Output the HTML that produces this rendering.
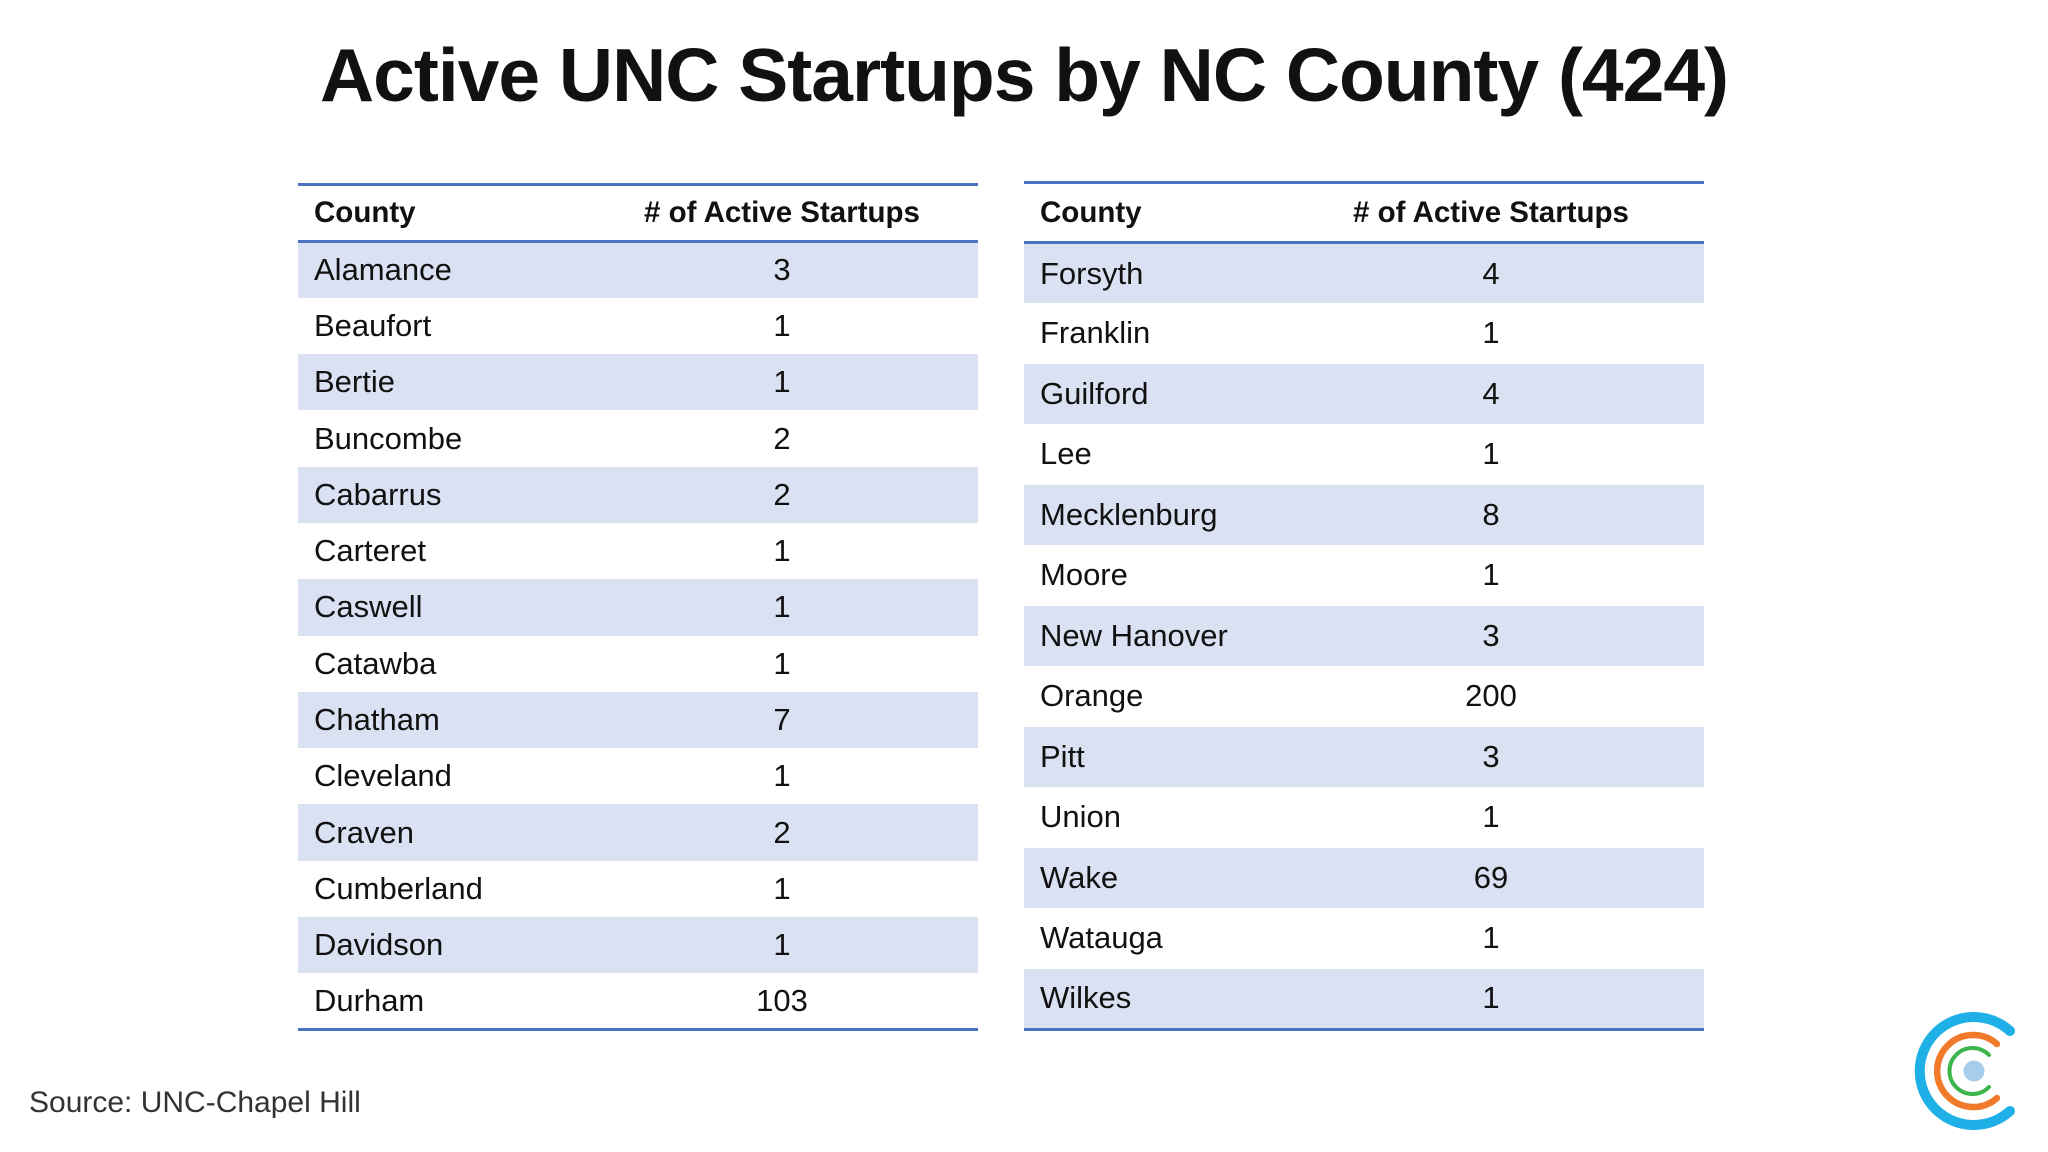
<!DOCTYPE html>
<html><head><meta charset="utf-8"><style>
body{margin:0;width:2048px;height:1152px;background:#fff;position:relative;overflow:hidden;font-family:"Liberation Sans",sans-serif;color:#111}
h1{position:absolute;left:0;width:2048px;top:32px;margin:0;text-align:center;font-size:75px;font-weight:bold;letter-spacing:-1px}
table{position:absolute;border-collapse:collapse;font-size:31px}
td,th{padding:0 0 0 16px;text-align:left}
th{font-weight:bold;font-size:29.5px}
td.n,th.n{text-align:center;padding:0}
thead tr{border-top:3px solid #4a72c0;border-bottom:3px solid #4a72c0}
tbody tr:nth-child(odd){background:#d9e1f2}
tbody tr:last-child{border-bottom:3px solid #4a72c0}
.src{position:absolute;left:29px;top:1086px;font-size:30px;color:#333}
</style></head><body>
<h1>Active UNC Startups by NC County (424)</h1>
<table id="t1" style="left:298px;top:183px;width:680px">
<colgroup><col style="width:288px"><col style="width:392px"></colgroup>
<thead><tr style="height:57px"><th>County</th><th class="n"># of Active Startups</th></tr></thead>
<tbody></tbody></table>
<table id="t2" style="left:1024px;top:181px;width:680px">
<colgroup><col style="width:254px"><col style="width:426px"></colgroup>
<thead><tr style="height:60px"><th>County</th><th class="n"># of Active Startups</th></tr></thead>
<tbody></tbody></table>
<div class="src">Source: UNC-Chapel Hill</div>
<svg style="position:absolute;left:1900px;top:998px" width="148" height="148" viewBox="-74 -73 148 148">
<g fill="none" stroke-linecap="round">
<path d="M 36 -40 A 54 54 0 1 0 36 40" stroke="#1fb0e8" stroke-width="10"/>
<path d="M 23 -27 A 36 36 0 1 0 23 27" stroke="#f07a2a" stroke-width="6.5"/>
<path d="M 15 -16 A 23 23 0 1 0 15 16" stroke="#3cb54a" stroke-width="4"/>
</g><circle cx="0" cy="0" r="10.5" fill="#a8cdea"/></svg>
<script>
const leftCounties=["Alamance","Beaufort","Bertie","Buncombe","Cabarrus","Carteret","Caswell","Catawba","Chatham","Cleveland","Craven","Cumberland","Davidson","Durham"];
const leftValues=[3,1,1,2,2,1,1,1,7,1,2,1,1,103];
const rightCounties=["Forsyth","Franklin","Guilford","Lee","Mecklenburg","Moore","New Hanover","Orange","Pitt","Union","Wake","Watauga","Wilkes"];
const rightValues=[4,1,4,1,8,1,3,200,3,1,69,1,1];
function fill(id,names,vals,h){
  const tb=document.querySelector('#'+id+' tbody');
  names.forEach((n,i)=>{
    const tr=document.createElement('tr');
    
    
    tr.style.height=h+'px';
    const a=document.createElement('td');
    
    
    a.textContent=n;
    const b=document.createElement('td');
    
    
    b.className='n';b.textContent=vals[i];
    tr.appendChild(a);tr.appendChild(b);tb.appendChild(tr);
  });
}
fill('t1',leftCounties,leftValues,56.3);
fill('t2',rightCounties,rightValues,60.5);
</script>
</body></html>
